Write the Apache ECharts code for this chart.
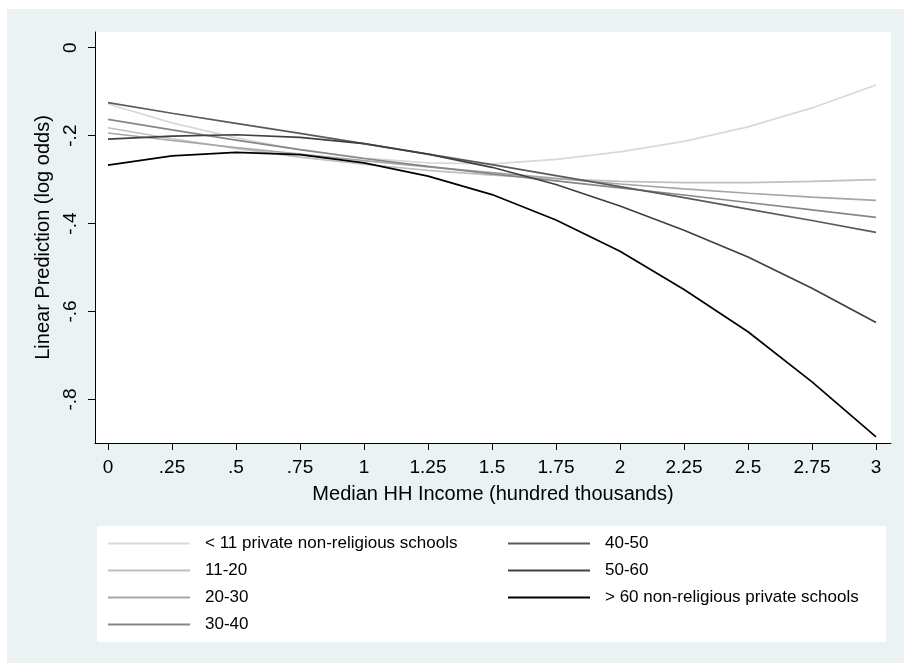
<!DOCTYPE html>
<html><head><meta charset="utf-8">
<script src="https://cdn.jsdelivr.net/npm/echarts@6/dist/echarts.min.js"></script>
<style>
html,body{margin:0;padding:0;background:#fff;}
#wrap{position:relative;width:904px;height:663px;background:#fff;overflow:hidden}
#panel{position:absolute;left:7px;top:9px;width:897px;height:654px;background:#eaf2f3}
#legbox{position:absolute;left:97px;top:526px;width:789px;height:116px;background:#fff}
#chart{position:absolute;left:0;top:0;width:904px;height:663px}
</style></head><body>
<div id="wrap"><div id="panel"></div><div id="legbox"></div><div id="chart"></div></div>
<script>
// Median HH income (hundred thousands)
const incomeX = [0, 0.25, 0.5, 0.75, 1, 1.25, 1.5, 1.75, 2, 2.25, 2.5, 2.75, 3];

const seriesNames = [
  '< 11 private non-religious schools',
  '11-20',
  '20-30',
  '30-40',
  '40-50',
  '50-60',
  '> 60 non-religious private schools'
];

const predLt11 = [-0.128, -0.171, -0.205, -0.232, -0.251, -0.262, -0.264, -0.254, -0.237, -0.213, -0.180, -0.137, -0.085];
const pred11to20 = [-0.182, -0.207, -0.229, -0.249, -0.265, -0.279, -0.290, -0.298, -0.304, -0.307, -0.307, -0.304, -0.300];
const pred20to30 = [-0.194, -0.211, -0.227, -0.242, -0.257, -0.271, -0.284, -0.297, -0.310, -0.321, -0.331, -0.340, -0.347];
const pred30to40 = [-0.163, -0.187, -0.210, -0.232, -0.252, -0.270, -0.287, -0.303, -0.319, -0.335, -0.352, -0.369, -0.386];
const pred40to50 = [-0.125, -0.149, -0.172, -0.195, -0.218, -0.242, -0.266, -0.291, -0.316, -0.341, -0.367, -0.393, -0.420];
const pred50to60 = [-0.208, -0.201, -0.198, -0.204, -0.218, -0.242, -0.272, -0.311, -0.360, -0.415, -0.476, -0.547, -0.625];
const predGt60 = [-0.267, -0.246, -0.238, -0.243, -0.262, -0.292, -0.334, -0.392, -0.463, -0.550, -0.646, -0.760, -0.885];

const xTicks = [0, 0.25, 0.5, 0.75, 1, 1.25, 1.5, 1.75, 2, 2.25, 2.5, 2.75, 3];
const xTickLabels = ['0', '.25', '.5', '.75', '1', '1.25', '1.5', '1.75', '2', '2.25', '2.5', '2.75', '3'];
const yTicks = [0, -0.2, -0.4, -0.6, -0.8];
const yTickLabels = ['0', '-.2', '-.4', '-.6', '-.8'];

const allValues = [predLt11, pred11to20, pred20to30, pred30to40, pred40to50, pred50to60, predGt60];
const colors = ['#d9d9d9', '#c0c0c0', '#a6a6a6', '#878787', '#5a5a5a', '#404040', '#000000'];

const FONT = '"Liberation Sans", Arial, Helvetica, sans-serif';

function lookup(vals, labels, v) {
  for (let i = 0; i < vals.length; i++) if (Math.abs(vals[i] - v) < 1e-6) return labels[i];
  return '';
}

const chart = echarts.init(document.getElementById('chart'), null, {renderer: 'canvas'});
const option = {
  backgroundColor: 'transparent',
  animation: false,
  textStyle: {fontFamily: FONT},
  grid: {left: 95, right: 13, top: 32, bottom: 220, show: true, backgroundColor: '#ffffff', borderWidth: 0},
  xAxis: {
    type: 'value', min: -0.0508, max: 3.0586,
    name: 'Median HH Income (hundred thousands)', nameLocation: 'middle', nameGap: 41,
    nameTextStyle: {fontFamily: FONT, fontSize: 20, color: '#000'},
    axisLine: {show: true, onZero: false, lineStyle: {color: '#000', width: 1}},
    axisTick: {show: true, length: 7, customValues: xTicks, lineStyle: {color: '#000'}},
    axisLabel: {customValues: xTicks, margin: 15, fontFamily: FONT, fontSize: 19, color: '#000',
      formatter: v => lookup(xTicks, xTickLabels, v)},
    splitLine: {show: false}
  },
  yAxis: {
    type: 'value', min: -0.899, max: 0.0357,
    name: 'Linear Prediction (log odds)', nameLocation: 'middle', nameGap: 38,
    nameTextStyle: {fontFamily: FONT, fontSize: 20, color: '#000'},
    axisLine: {show: true, onZero: false, lineStyle: {color: '#000', width: 1}},
    axisTick: {show: true, length: 7, customValues: yTicks, lineStyle: {color: '#000'}},
    axisLabel: {customValues: yTicks, rotate: 90, margin: 15, fontFamily: FONT, fontSize: 19, color: '#000',
      formatter: v => lookup(yTicks, yTickLabels, v)},
    splitLine: {show: false}
  },
  legend: [
    {
      data: seriesNames.slice(0, 4), orient: 'vertical', left: 108, top: 535, padding: 0,
      icon: 'rect', itemWidth: 82, itemHeight: 2, itemGap: 10,
      textStyle: {fontFamily: FONT, fontSize: 17, color: '#000', padding: [0, 0, 0, 10]},
      selectedMode: false
    },
    {
      data: seriesNames.slice(4), orient: 'vertical', left: 508, top: 535, padding: 0,
      icon: 'rect', itemWidth: 82, itemHeight: 2, itemGap: 10,
      textStyle: {fontFamily: FONT, fontSize: 17, color: '#000', padding: [0, 0, 0, 10]},
      selectedMode: false
    }
  ],
  series: seriesNames.map((name, i) => ({
    name: name, type: 'line', symbol: 'none', smooth: false,
    color: colors[i],
    lineStyle: {color: colors[i], width: 1.7},
    itemStyle: {color: colors[i]},
    data: incomeX.map((x, j) => [x, allValues[i][j]])
  }))
};
chart.setOption(option);
</script>
</body></html>
